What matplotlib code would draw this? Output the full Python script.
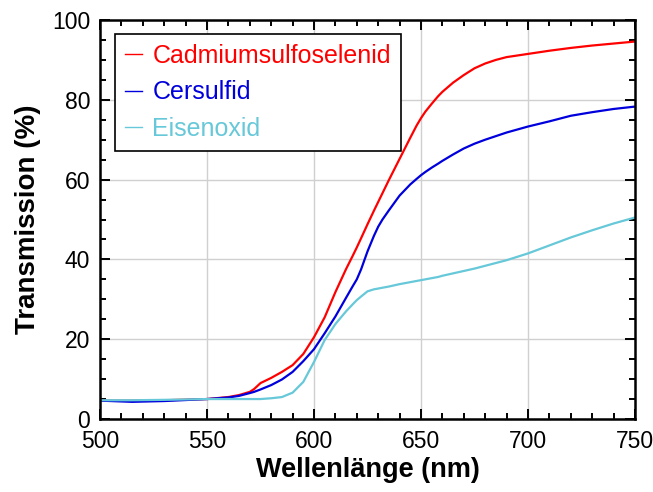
import matplotlib
matplotlib.use("Agg")
import matplotlib.pyplot as plt
from matplotlib.ticker import MultipleLocator

plt.rcParams['font.family'] = ['Liberation Sans', 'DejaVu Sans']

# wavelength grid (nm)
wl = [500, 515, 530, 550, 560, 565, 570, 572, 575, 580, 585, 590, 595, 600,
      605, 610, 615, 618, 620, 622, 625, 628, 630, 632, 635, 640, 645, 648,
      650, 652, 655, 658, 660, 665, 670, 675, 680, 685, 690, 700, 710, 720,
      730, 740, 750]

# transmission (%)
cadmium = [4.6, 4.6, 4.7, 5.0, 5.5, 6.0, 6.8, 7.5, 9.0, 10.3, 11.8, 13.5, 16.3, 20.5,
           25.5, 31.8, 37.6, 40.8, 43.0, 45.3, 48.8, 52.2, 54.4, 56.6, 59.9, 65.2, 70.5, 73.6,
           75.4, 77.0, 79.0, 80.9, 82.0, 84.3, 86.2, 87.9, 89.1, 90.0, 90.7, 91.5, 92.3, 93.0,
           93.6, 94.1, 94.6]
cersulfid = [4.6, 4.3, 4.5, 5.0, 5.4, 5.8, 6.5, 6.8, 7.4, 8.5, 9.9, 11.8, 14.5, 17.5,
             21.5, 25.7, 30.4, 33.2, 35.0, 37.5, 42.0, 45.9, 48.2, 50.0, 52.3, 56.0, 58.8, 60.2,
             61.1, 61.9, 63.0, 64.0, 64.7, 66.3, 67.8, 69.0, 70.0, 70.9, 71.8, 73.3, 74.6, 76.0,
             76.9, 77.7, 78.3]
eisenoxid = [4.7, 4.7, 4.8, 5.0, 5.0, 5.0, 5.0, 5.0, 5.0, 5.2, 5.5, 6.6, 9.3, 14.3,
             19.8, 23.8, 27.0, 28.7, 29.8, 30.7, 32.0, 32.5, 32.7, 32.9, 33.2, 33.8, 34.3, 34.6,
             34.8, 35.0, 35.3, 35.6, 35.9, 36.5, 37.1, 37.7, 38.4, 39.1, 39.8, 41.5, 43.5, 45.5,
             47.3, 49.0, 50.5]

names = ['Cadmiumsulfoselenid', 'Cersulfid', 'Eisenoxid']
colors = ['#ff0000', '#0000dd', '#66c8d8']

fig = plt.figure(figsize=(6.53, 4.92), dpi=100)
ax = fig.add_axes([100 / 653, 1 - 419 / 492, 535 / 653, 399 / 492])

for y, name, c in zip([cadmium, cersulfid, eisenoxid], names, colors):
    ax.plot(wl, y, color=c, lw=1.6, label=name)

ax.set_xlim(500, 750)
ax.set_ylim(0, 100)
ax.xaxis.set_major_locator(MultipleLocator(50))
ax.xaxis.set_minor_locator(MultipleLocator(10))
ax.yaxis.set_major_locator(MultipleLocator(20))
ax.yaxis.set_minor_locator(MultipleLocator(5))
ax.grid(True, which='major', color='#d0d0d0', lw=1)
ax.set_axisbelow(True)

ax.tick_params(which='both', direction='in', top=True, right=True, width=1.4)
ax.tick_params(which='major', length=7, labelsize=16.5)
ax.tick_params(axis='x', which='major', pad=8)
ax.tick_params(axis='y', which='major', pad=7)
ax.tick_params(which='minor', length=4)
for s in ax.spines.values():
    s.set_linewidth(1.8)

ax.set_xlabel('Wellenlänge (nm)', fontsize=19.5, fontweight='bold', labelpad=3)
ax.set_ylabel('Transmission (%)', fontsize=20, fontweight='bold', labelpad=8)

leg = ax.legend(loc='upper left', bbox_to_anchor=(0.028, 0.965), fontsize=18,
                frameon=True, fancybox=False, edgecolor='black', framealpha=1,
                handlelength=0.7, handletextpad=0.4, labelspacing=0.5,
                borderpad=0.4, borderaxespad=0)
leg.get_frame().set_linewidth(1.2)
for line, text, c in zip(leg.get_lines(), leg.get_texts(), colors):
    line.set_linewidth(1.0)
    text.set_color(c)

fig.savefig('out.png', dpi=100)
